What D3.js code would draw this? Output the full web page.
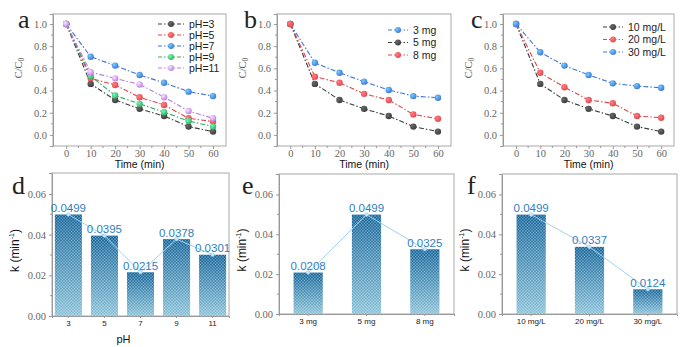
<!DOCTYPE html>
<html>
<head>
<meta charset="utf-8">
<script src="https://cdn.jsdelivr.net/npm/d3@7"></script>
<style>
   body { margin: 0; background: #fff; }
   svg { display: block; }
</style>
</head>
<body>
<svg id="chart" width="681" height="347"></svg>
<script>
// ---- data ----
var times = [0, 10, 20, 30, 40, 50, 60];

var pH3 = [1.0, 0.46, 0.315, 0.235, 0.17, 0.075, 0.03];
var pH5 = [1.0, 0.51, 0.45, 0.34, 0.27, 0.15, 0.12];
var pH7 = [1.0, 0.705, 0.625, 0.54, 0.47, 0.39, 0.35];
var pH9 = [1.0, 0.53, 0.355, 0.28, 0.205, 0.125, 0.075];
var pH11 = [1.0, 0.565, 0.51, 0.455, 0.34, 0.215, 0.15];

var dose3 = [1.0, 0.65, 0.56, 0.48, 0.405, 0.35, 0.335];
var dose5 = [1.0, 0.46, 0.315, 0.235, 0.17, 0.075, 0.03];
var dose8 = [1.0, 0.525, 0.47, 0.37, 0.315, 0.185, 0.145];

var conc10 = [1.0, 0.46, 0.315, 0.235, 0.17, 0.075, 0.03];
var conc20 = [1.0, 0.56, 0.43, 0.315, 0.285, 0.17, 0.155];
var conc30 = [1.0, 0.745, 0.625, 0.54, 0.465, 0.44, 0.425];

var pHCategories = ['3', '5', '7', '9', '11'];
var pHRates = [0.0499, 0.0395, 0.0215, 0.0378, 0.0301];
var doseCategories = ['3 mg', '5 mg', '8 mg'];
var doseRates = [0.0208, 0.0499, 0.0325];
var concCategories = ['10 mg/L', '20 mg/L', '30 mg/L'];
var concRates = [0.0499, 0.0337, 0.0124];

var yTicksTop = [0, 0.2, 0.4, 0.6, 0.8, 1.0];
var xTicksTop = [0, 10, 20, 30, 40, 50, 60];
var yTicksBottom = [0, 0.02, 0.04, 0.06];

var colors = {black: '#3c3c3c', red: '#e2474b', blue: '#3f74d6', green: '#3ba765', purple: '#b57fe0'};

// ---- drawing ----
var SERIF = "'Liberation Serif'";
var SANS = "'Liberation Sans'";

var svg = d3.select('#chart');
var defs = svg.append('defs');

Object.keys(colors).forEach(function (k) {
   var g = defs.append('radialGradient').attr('id', 'dot-' + k)
      .attr('cx', '0.35').attr('cy', '0.35').attr('r', '0.7');
   g.append('stop').attr('offset', '0').attr('stop-color', d3.color(colors[k]).brighter(1.6));
   g.append('stop').attr('offset', '1').attr('stop-color', colors[k]);
});

var barGrad = defs.append('linearGradient').attr('id', 'barGrad')
   .attr('x1', 0).attr('y1', 0).attr('x2', 0).attr('y2', 1);
barGrad.append('stop').attr('offset', '0').attr('stop-color', '#17679b');
barGrad.append('stop').attr('offset', '1').attr('stop-color', '#8cc3d9');

var hatch = defs.append('pattern').attr('id', 'hatch')
   .attr('patternUnits', 'userSpaceOnUse').attr('width', 3).attr('height', 3);
hatch.append('path').attr('d', 'M0,0 L3,3 M3,0 L0,3')
   .attr('stroke', '#ffffff').attr('stroke-opacity', 0.3).attr('stroke-width', 0.7);

function frame(g, w, h) {
   g.append('rect').attr('width', w).attr('height', h)
      .attr('fill', 'none').attr('stroke', '#a8a8a8').attr('stroke-width', 1);
}

function styleTicks(sel, fam, size, fill) {
   sel.style('font-family', fam).attr('font-size', size).attr('fill', fill);
}

function leftAxis(g, y, ticks, minor, fmt) {
   var ax = g.append('g');
   ax.call(d3.axisLeft(y).tickValues(ticks).tickFormat(fmt).tickSize(3).tickPadding(3));
   ax.attr('font-family', null);
   styleTicks(ax.selectAll('text'), SERIF, 10.5, '#666');
   ax.selectAll('line').attr('stroke', '#999');
   ax.select('.domain').attr('stroke', '#999');
   ax.append('g').selectAll('line').data(minor).enter().append('line')
      .attr('x1', 0).attr('x2', -2).attr('y1', y).attr('y2', y).attr('stroke', '#999');
}

function linePanel(opt) {
   var w = opt.w, h = 132;
   var g = svg.append('g').attr('transform', 'translate(' + opt.x + ',14)');
   var x = d3.scaleLinear().domain([-5.4, 65.3]).range([0, w]);
   var y = d3.scaleLinear().domain([-0.1, 1.09]).range([h, 0]);

   frame(g, w, h);
   leftAxis(g, y, yTicksTop, [0.1, 0.3, 0.5, 0.7, 0.9], function (d) { return d.toFixed(1); });

   var bx = g.append('g').attr('transform', 'translate(0,' + h + ')')
      .call(d3.axisBottom(x).tickValues(xTicksTop).tickSize(3).tickPadding(1));
   bx.attr('font-family', null);
   bx.select('.domain').remove();
   bx.selectAll('line').attr('stroke', '#999');
   styleTicks(bx.selectAll('text'), SERIF, 10.5, '#666');
   bx.selectAll('.minor').data([5, 15, 25, 35, 45, 55]).enter().append('line')
      .attr('class', 'minor').attr('x1', x).attr('x2', x).attr('y1', 0).attr('y2', 2).attr('stroke', '#999');

   var line = d3.line().x(function (d, i) { return x(times[i]); }).y(function (d) { return y(d); });

   opt.series.forEach(function (s) {
      g.append('path').datum(s.values).attr('d', line)
         .attr('fill', 'none').attr('stroke', colors[s.color]).attr('stroke-width', 1.1)
         .attr('stroke-dasharray', '5,2,1.5,2');
      g.append('g').selectAll('circle').data(s.values).enter().append('circle')
         .attr('cx', function (d, i) { return x(times[i]); })
         .attr('cy', y).attr('r', 3.2)
         .attr('fill', 'url(#dot-' + s.color + ')');
   });

   // legend
   var lg = g.append('g').attr('transform', 'translate(' + opt.legend.x + ',' + opt.legend.y + ')');
   opt.series.forEach(function (s, i) {
      var row = lg.append('g').attr('transform', 'translate(0,' + i * opt.legend.step + ')');
      row.append('line').attr('x1', 0).attr('x2', opt.legend.len).attr('y1', 0).attr('y2', 0)
         .attr('stroke', colors[s.color]).attr('stroke-width', 1.1).attr('stroke-dasharray', '4,2,1.5,2');
      row.append('circle').attr('cx', opt.legend.len / 2).attr('cy', 0).attr('r', 3)
         .attr('fill', 'url(#dot-' + s.color + ')');
      row.append('text').style('font-family', SANS).attr('x', opt.legend.len + 5).attr('y', 3.5)
         .attr('font-size', 10.5).attr('fill', '#222').text(s.name);
   });

   g.append('text').style('font-family', SERIF).attr('transform', 'translate(-31,' + (h / 2 - 12) + ') rotate(-90)')
      .attr('text-anchor', 'middle').attr('font-size', 10.5).attr('fill', '#555')
      .html('C/C<tspan font-size="7.5" dy="2">0</tspan>');
   g.append('text').style('font-family', SANS).attr('x', x(30)).attr('y', h + 22).attr('text-anchor', 'middle')
      .attr('font-size', 10.5).attr('fill', '#111').text('Time (min)');

   svg.append('text').style('font-family', SERIF).attr('x', opt.labelX).attr('y', 28)
      .attr('font-size', 26).attr('fill', '#222').text(opt.label);
}

function barPanel(opt) {
   var w = opt.w, h = opt.h;
   var g = svg.append('g').attr('transform', 'translate(' + opt.x + ',' + opt.y + ')');
   var x = d3.scaleBand().domain(opt.categories).range([0, w])
      .paddingInner(opt.pi).paddingOuter(opt.po);
   var y = d3.scaleLinear().domain([0, 0.0703]).range([h, 0]);

   frame(g, w, h);

   var data = opt.categories.map(function (c, i) { return {c: c, v: opt.values[i]}; });

   var bars = g.append('g');
   bars.selectAll('rect.fill').data(data).enter().append('rect').attr('class', 'fill')
      .attr('x', function (d) { return x(d.c); }).attr('width', x.bandwidth())
      .attr('y', function (d) { return y(d.v); }).attr('height', function (d) { return h - y(d.v); })
      .attr('fill', 'url(#barGrad)');
   bars.selectAll('rect.hatch').data(data).enter().append('rect').attr('class', 'hatch')
      .attr('x', function (d) { return x(d.c); }).attr('width', x.bandwidth())
      .attr('y', function (d) { return y(d.v); }).attr('height', function (d) { return h - y(d.v); })
      .attr('fill', 'url(#hatch)');

   leftAxis(g, y, yTicksBottom, [0.01, 0.03, 0.05], function (d) { return d.toFixed(2); });

   var bx = g.append('g').attr('transform', 'translate(0,' + h + ')')
      .call(d3.axisBottom(x).tickSize(2).tickPadding(2));
   bx.attr('font-family', null);
   bx.select('.domain').attr('stroke', '#999');
   bx.selectAll('line').attr('stroke', '#999');
   styleTicks(bx.selectAll('text'), SANS, 8, '#222');

   var cx = function (d) { return x(d.c) + x.bandwidth() / 2; };
   g.append('path').datum(data)
      .attr('d', d3.line().x(cx).y(function (d) { return y(d.v); }))
      .attr('fill', 'none').attr('stroke', '#9fd2f2').attr('stroke-width', 1);
   g.append('g').selectAll('circle').data(data).enter().append('circle')
      .attr('cx', cx).attr('cy', function (d) { return y(d.v); }).attr('r', 1.8)
      .attr('fill', '#cfeafb').attr('stroke', '#8cc8ee').attr('stroke-width', 0.6);
   g.append('g').selectAll('text').data(data).enter().append('text').style('font-family', SANS)
      .attr('x', cx).attr('y', function (d) { return y(d.v) - 2.5; })
      .attr('text-anchor', 'middle').attr('font-size', 11.5)
      .attr('fill', '#2f7fbf').text(function (d) { return d.v.toFixed(4); });

   g.append('text').style('font-family', SANS).attr('transform', 'translate(-33,' + (h / 2 + 6) + ') rotate(-90)')
      .attr('text-anchor', 'middle').attr('font-size', 12).attr('fill', '#111')
      .html('k (min<tspan font-size="7" dy="-5">-1</tspan><tspan dy="5">)</tspan>');
   if (opt.xTitle) {
      g.append('text').style('font-family', SANS).attr('x', w / 2 - 17).attr('y', h + 27).attr('text-anchor', 'middle')
         .attr('font-size', 11).attr('fill', '#111').text(opt.xTitle);
   }

   svg.append('text').style('font-family', SERIF).attr('x', opt.labelX).attr('y', 194)
      .attr('font-size', 26).attr('fill', '#222').text(opt.label);
}

linePanel({
   x: 53, w: 173, label: 'a', labelX: 18,
   legend: {x: 105, y: 10, step: 11, len: 26},
   series: [
      {name: 'pH=3', values: pH3, color: 'black'},
      {name: 'pH=5', values: pH5, color: 'red'},
      {name: 'pH=7', values: pH7, color: 'blue'},
      {name: 'pH=9', values: pH9, color: 'green'},
      {name: 'pH=11', values: pH11, color: 'purple'}
   ]
});
linePanel({
   x: 277, w: 174, label: 'b', labelX: 244,
   legend: {x: 111, y: 16, step: 12.5, len: 20},
   series: [
      {name: '3 mg', values: dose3, color: 'blue'},
      {name: '5 mg', values: dose5, color: 'black'},
      {name: '8 mg', values: dose8, color: 'red'}
   ]
});
linePanel({
   x: 503, w: 171, label: 'c', labelX: 471,
   legend: {x: 100, y: 13, step: 12.5, len: 20},
   series: [
      {name: '10 mg/L', values: conc10, color: 'black'},
      {name: '20 mg/L', values: conc20, color: 'red'},
      {name: '30 mg/L', values: conc30, color: 'blue'}
   ]
});

barPanel({x: 52, y: 173, w: 177, h: 143, pi: 0.25, po: 0.08,
   categories: pHCategories, values: pHRates, label: 'd', labelX: 12, xTitle: 'pH'});
barPanel({x: 279, y: 174, w: 175, h: 140, pi: 0.5, po: 0.25,
   categories: doseCategories, values: doseRates, label: 'e', labelX: 242});
barPanel({x: 502, y: 174, w: 175, h: 140, pi: 0.5, po: 0.25,
   categories: concCategories, values: concRates, label: 'f', labelX: 467});
</script>
</body>
</html>
